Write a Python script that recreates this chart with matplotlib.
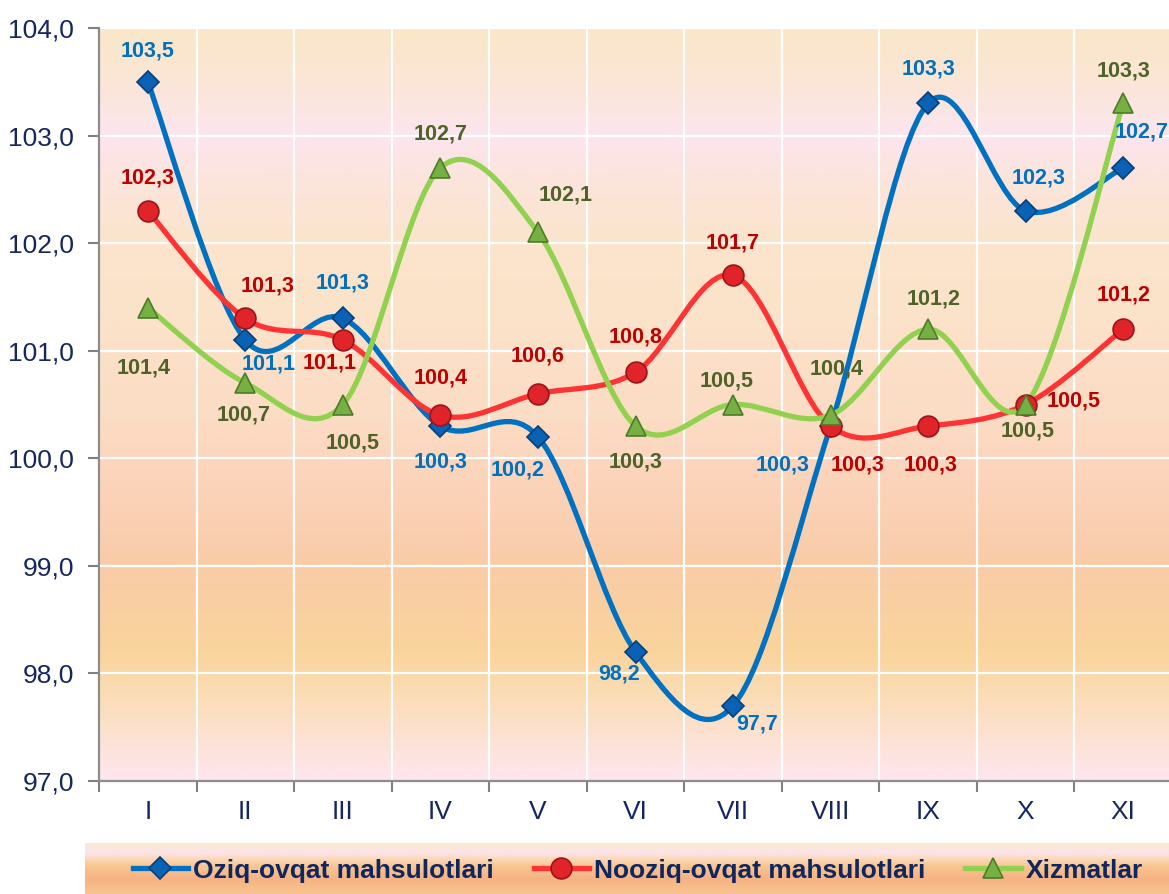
import numpy as np
import matplotlib
matplotlib.use('Agg')
import matplotlib.pyplot as plt
from matplotlib.path import Path
from matplotlib.patches import PathPatch
from matplotlib.lines import Line2D
from matplotlib.colors import LinearSegmentedColormap

plt.rcParams['font.family'] = ['Liberation Sans', 'DejaVu Sans']

# data
months = ['I', 'II', 'III', 'IV', 'V', 'VI', 'VII', 'VIII', 'IX', 'X', 'XI']
oziq = [103.5, 101.1, 101.3, 100.3, 100.2, 98.2, 97.7, 100.3, 103.3, 102.3, 102.7]
nooziq = [102.3, 101.3, 101.1, 100.4, 100.6, 100.8, 101.7, 100.3, 100.3, 100.5, 101.2]
xizmat = [101.4, 100.7, 100.5, 102.7, 102.1, 100.3, 100.5, 100.4, 101.2, 100.5, 103.3]
series_names = ['Oziq-ovqat mahsulotlari', 'Nooziq-ovqat mahsulotlari', 'Xizmatlar']

# label offsets in pixels (dx right, dy down)
off_oziq = [(0, -31), (23, 24), (0, -35), (0, 36), (-20, 33), (-16, 22),
            (24, 18), (-48, 39), (0, -34), (13, -33), (18, -36)]
off_nooziq = [(0, -33), (22, -32), (-13, 23), (0, -37), (0, -38), (0, -35),
              (0, -32), (27, 39), (2, 39), (48, -4), (0, -34)]
off_xizmat = [(-4, 60), (-2, 32), (10, 39), (0, -34), (28, -37), (0, 36),
              (-6, -24), (6, -46), (5, -30), (2, 27), (0, -32)]


def smooth_path(x, y):
    # catmull-rom style bezier, like excel smoothed lines
    pts = np.column_stack([x, y])
    verts = [pts[0]]
    codes = [Path.MOVETO]
    n = len(pts)
    for i in range(n - 1):
        p0 = pts[max(i - 1, 0)]
        p1 = pts[i]
        p2 = pts[i + 1]
        p3 = pts[min(i + 2, n - 1)]
        c1 = p1 + (p2 - p0) / 6.0
        c2 = p2 - (p3 - p1) / 6.0
        verts += [c1, c2, p2]
        codes += [Path.CURVE4] * 3
    return Path(verts, codes)


fig = plt.figure(figsize=(11.69, 8.94), dpi=100)
W, H = 1169, 894
ax = fig.add_axes([99 / W, 1 - 781 / H, (1172 - 99) / W, (781 - 28) / H])

x = np.arange(len(months))
ax.set_xlim(-0.5, len(months) - 0.5)
ax.set_ylim(97, 104)

# background gradient of the plot area
bg_stops = [(0.0, '#fde6ee'), (0.043, '#fde3da'), (0.107, '#fbddb8'), (0.17, '#fad49c'),
            (0.236, '#f9cfa2'), (0.29, '#f9cca8'), (0.37, '#fbd2b6'), (0.43, '#fcd6be'),
            (0.48, '#fcdcc4'), (0.55, '#fbdfc6'), (0.62, '#fbe3ca'), (0.72, '#fbe5cc'),
            (0.8, '#fce4dc'), (0.86, '#fce5ee'), (0.93, '#fbe6d6'), (1.0, '#fae7c8')]
bg_cmap = LinearSegmentedColormap.from_list('bg', bg_stops)
grad = np.linspace(0, 1, 256).reshape(-1, 1)
ax.imshow(grad, cmap=bg_cmap, aspect='auto', origin='lower',
          extent=(-0.5, len(months) - 0.5, 97, 104), zorder=0)

ax.set_yticks(np.arange(97, 104.1, 1))
ax.set_yticklabels([f'{v:.1f}'.replace('.', ',') for v in np.arange(97, 104.1, 1)])
ax.set_xticks(np.arange(-0.5, len(months), 1))
ax.set_xticklabels([])
ax.set_xticks(x, minor=True)
ax.set_xticklabels(months, minor=True)
ax.tick_params(axis='x', which='minor', length=0, pad=14)
ax.tick_params(axis='x', which='major', length=8, width=1.5, color='#808080')
ax.tick_params(axis='y', length=8, width=1.5, color='#808080', pad=10)
for lab in ax.get_yticklabels() + ax.get_xticklabels(minor=True):
    lab.set_fontsize(19)
    lab.set_color('#152660')

ax.grid(True, which='major', color='white', linewidth=1.6)
ax.set_axisbelow(True)
for s in ['top', 'right']:
    ax.spines[s].set_visible(False)
for s in ['left', 'bottom']:
    ax.spines[s].set_color('#8c8c8c')
    ax.spines[s].set_linewidth(1.6)

styles = [
    dict(vals=oziq, offs=off_oziq, line='#0070c0', mk='D', ms=11.5, face='#0a62b4',
         edge='#063f7a', txt='#0070c0'),
    dict(vals=nooziq, offs=off_nooziq, line='#ff3333', mk='o', ms=15, face='#e0242a',
         edge='#9c1418', txt='#c00000'),
    dict(vals=xizmat, offs=off_xizmat, line='#92d050', mk='^', ms=15, face='#76b043',
         edge='#4f7a2a', txt='#4f6228'),
]

handles = []
for st, name in zip(styles, series_names):
    path = smooth_path(x, st['vals'])
    ax.add_patch(PathPatch(path, facecolor='none', edgecolor=st['line'], lw=3.8,
                           capstyle='round', zorder=3))
    handles.append(Line2D([], [], color=st['line'], lw=3.8, marker=st['mk'],
                          markersize=st['ms'], markerfacecolor=st['face'],
                          markeredgecolor=st['edge'], markeredgewidth=1.2))

for st in styles:
    ax.plot(x, st['vals'], linestyle='none', marker=st['mk'], markersize=st['ms'],
            markerfacecolor=st['face'], markeredgecolor=st['edge'],
            markeredgewidth=1.2, zorder=4)
    for xi, v, (dx, dy) in zip(x, st['vals'], st['offs']):
        ax.annotate(f'{v:.1f}'.replace('.', ','), (xi, v),
                    xytext=(dx * 0.72, -dy * 0.72), textcoords='offset points',
                    ha='center', va='center', fontsize=15.5, fontweight='bold',
                    color=st['txt'], zorder=5, annotation_clip=False)

# legend strip at the bottom
lax = fig.add_axes([85 / W, 0, 1 - 85 / W, 51 / H])
lg_stops = [(0.0, '#f8c690'), (0.3, '#f6b283'), (0.55, '#f9c690'), (0.72, '#fcdcc4'),
            (0.82, '#fce4ec'), (1.0, '#fbe9cc')]
lg_cmap = LinearSegmentedColormap.from_list('lg', lg_stops)
lax.imshow(grad, cmap=lg_cmap, aspect='auto', origin='lower', extent=(0, 1, 0, 1))
lax.set_xlim(0, 1)
lax.set_ylim(0, 1)
lax.axis('off')
leg = lax.legend(handles, series_names, loc='center', bbox_to_anchor=(0.51, 0.46),
                 ncol=3, frameon=False, handlelength=2.1, handletextpad=0.2,
                 columnspacing=1.5, prop={'size': 19, 'weight': 'bold'})
for t in leg.get_texts():
    t.set_color('#0f2660')

fig.savefig('out.png', dpi=100)
